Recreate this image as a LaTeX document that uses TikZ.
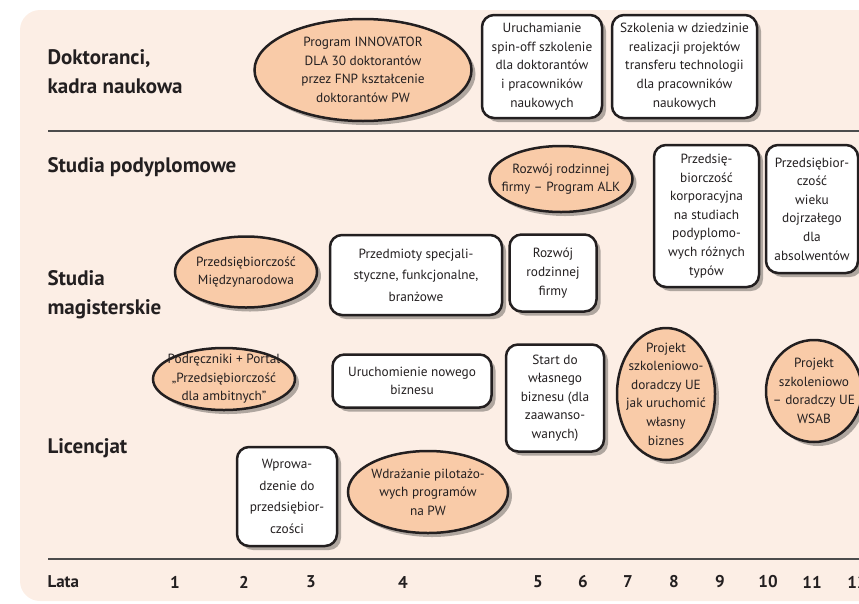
\documentclass[tikz,border=0pt]{standalone}
\usepackage{fontspec}
\setmainfont{PT Sans}
\usetikzlibrary{shapes.geometric,shadows}
\definecolor{peach}{HTML}{FCEEE5}
\definecolor{apricot}{HTML}{F9CBA8}
\definecolor{ink}{HTML}{231F20}
\begin{document}
\begin{tikzpicture}
[ x=1pt, y=-1pt, text=ink
, rowlabel/.style={anchor=west, align=left, font=\fontsize{21}{29}\selectfont\bfseries}
, year/.style={font=\fontsize{17}{19}\selectfont\bfseries}
, txt/.style={align=center, font=\fontsize{13.3}{18.6}\selectfont}
, shade/.style={drop shadow={shadow xshift=4pt, shadow yshift=-4pt, opacity=.3, fill=black}}
, box/.style={rectangle, rounded corners=12pt, draw=ink, line width=2.5pt, fill=white, inner sep=0pt, shade}
, bubble/.style={ellipse, draw=ink, line width=2.5pt, fill=apricot, inner sep=0pt, shade}
, rule/.style={draw=black!70, line width=1.6pt}
]
\useasboundingbox (0,0) rectangle (859,603);
\fill[peach, rounded corners=20pt] (20,10) rectangle (900,601);
\draw[rule] (48,131) -- (859,131);
\draw[rule] (48,559) -- (859,559);

% row labels
\node (doktoranci) [rowlabel] at (44,72) {Doktoranci,\\kadra naukowa};
\node (podyplomowe) [rowlabel] at (44,167) {Studia podyplomowe};
\node (magisterskie) [rowlabel] at (44,295) {Studia\\magisterskie};
\node (licencjat) [rowlabel] at (44,448) {Licencjat};
\node (lata) [rowlabel, font=\fontsize{17}{19}\selectfont\bfseries] at (44,582) {Lata};
\foreach \n/\x in {1/175, 2/244, 3/311, 4/403, 5/538, 6/583, 7/628, 8/674, 9/720, 10/768, 11/812, 12/857}
  \node (rok\n) [year] at (\x,582) {\n};

% doktoranci
\node (innovator) [bubble, minimum width=217, minimum height=102,
  label={[txt]center:{Program INNOVATOR\\DLA 30 doktorantów\\przez FNP kształcenie\\doktorantów PW}}] at (363,70) {};
\node (spinoff) [box, minimum width=120, minimum height=103,
  label={[txt]center:{Uruchamianie\\spin-off szkolenie\\dla doktorantów\\i pracowników\\naukowych}}] at (542,66.5) {};
\node (transfer) [box, minimum width=145, minimum height=103,
  label={[txt]center:{Szkolenia w dziedzinie\\realizacji projektów\\transferu technologii\\dla pracowników\\naukowych}}] at (684.5,66.5) {};

% podyplomowe
\node (alk) [bubble, minimum width=143, minimum height=66,
  label={[txt]center:{Rozwój rodzinnej\\firmy – Program ALK}}] at (561,179) {};
\node (korporacyjna) [box, minimum width=105, minimum height=142,
  label={[txt]center:{Przedsię-\\biorczość\\korporacyjna\\na studiach\\podyplomo-\\wych różnych\\typów}}] at (706.5,216) {};
\node (dojrzaly) [box, minimum width=92, minimum height=128,
  label={[txt]center:{Przedsiębior-\\czość\\wieku\\dojrzałego\\dla\\absolwentów}}] at (812,209) {};

% magisterskie
\node (miedzynarodowa) [bubble, minimum width=142, minimum height=71,
  label={[txt]center:{Przedsiębiorczość\\Międzynarodowa}}] at (246,272) {};
\node (przedmioty) [box, minimum width=172, minimum height=80,
  label={[txt, font=\fontsize{13.3}{21.5}\selectfont]center:{Przedmioty specjali-\\styczne, funkcjonalne,\\branżowe}}] at (416,275) {};
\node (rodzinna) [box, minimum width=87, minimum height=77,
  label={[txt]center:{Rozwój\\rodzinnej\\firmy}}] at (553,273) {};

% licencjat
\node (podreczniki) [bubble, minimum width=142, minimum height=62,
  label={[txt]center:{Podręczniki + Portal\\„Przedsiębiorczość\\dla ambitnych”}}] at (224,379) {};
\node (nowybiznes) [box, minimum width=159, minimum height=53,
  label={[txt]center:{Uruchomienie nowego\\biznesu}}] at (412,381) {};
\node (start) [box, minimum width=98, minimum height=107,
  label={[txt]center:{Start do\\własnego\\biznesu (dla\\zaawanso-\\wanych)}}] at (555,398) {};
\node (uruchomic) [bubble, minimum width=98, minimum height=132,
  label={[txt]center:{Projekt\\szkoleniowo-\\doradczy UE\\jak uruchomić\\własny\\biznes}}] at (666,394) {};
\node (wsab) [bubble, minimum width=96, minimum height=102,
  label={[txt]center:{Projekt\\szkoleniowo\\– doradczy UE\\WSAB}}] at (814,391) {};
\node (wprowadzenie) [box, minimum width=100, minimum height=99,
  label={[txt, font=\fontsize{13.3}{21.5}\selectfont]center:{Wprowa-\\dzenie do\\przedsiębior-\\czości}}] at (287,496.5) {};
\node (pilotaz) [bubble, minimum width=160, minimum height=82,
  label={[txt]center:{Wdrażanie pilotażo-\\wych programów\\na PW}}] at (428,492) {};
\end{tikzpicture}
\end{document}
